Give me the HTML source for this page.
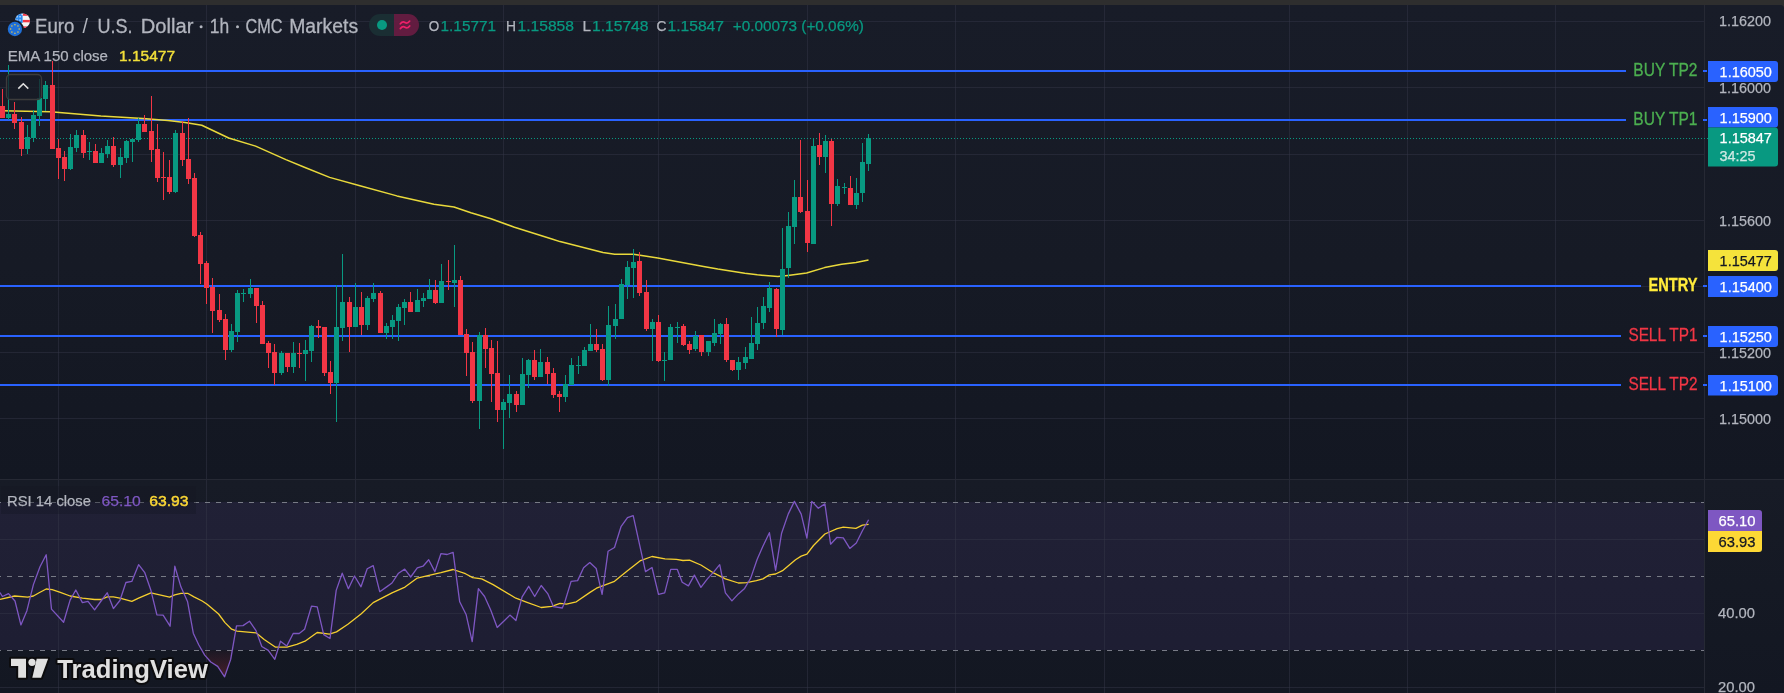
<!DOCTYPE html>
<html><head><meta charset="utf-8"><style>
html,body{margin:0;padding:0;background:#131722;}
body{width:1784px;height:693px;overflow:hidden;}
svg{display:block;will-change:transform;}
text{font-family:"Liberation Sans", sans-serif;}
</style></head><body>
<svg width="1784" height="693" viewBox="0 0 1784 693">
<defs>
<linearGradient id="bgm" x1="0" y1="0" x2="0" y2="1">
<stop offset="0" stop-color="#181c28"/><stop offset="0.55" stop-color="#161a25"/><stop offset="1" stop-color="#131722"/>
</linearGradient>
<linearGradient id="bgr" x1="0" y1="0" x2="0" y2="1">
<stop offset="0" stop-color="#171b26"/><stop offset="1" stop-color="#131722"/>
</linearGradient>
<linearGradient id="osf" gradientUnits="userSpaceOnUse" x1="0" y1="650" x2="0" y2="678">
<stop offset="0" stop-color="#f23645" stop-opacity="0.03"/><stop offset="1" stop-color="#f23645" stop-opacity="0.24"/>
</linearGradient>
<clipPath id="cm"><rect x="0" y="5" width="1704" height="474"/></clipPath>
<clipPath id="cr"><rect x="0" y="480" width="1704" height="213"/></clipPath>
<clipPath id="cos"><rect x="0" y="650.5" width="1704" height="43"/></clipPath>
</defs>

<rect x="0" y="0" width="1784" height="5" fill="#2e2e2e"/>
<rect x="0" y="5" width="1784" height="474" fill="url(#bgm)"/>
<rect x="0" y="480" width="1784" height="213" fill="url(#bgr)"/>
<rect x="0" y="502" width="1704" height="148" fill="#7e57c2" fill-opacity="0.1"/>
<rect x="58" y="5" width="1" height="474" fill="#363849" fill-opacity="0.47"/>
<rect x="58" y="480" width="1" height="213" fill="#363849" fill-opacity="0.47"/>
<rect x="206" y="5" width="1" height="474" fill="#363849" fill-opacity="0.47"/>
<rect x="206" y="480" width="1" height="213" fill="#363849" fill-opacity="0.47"/>
<rect x="355" y="5" width="1" height="474" fill="#363849" fill-opacity="0.47"/>
<rect x="355" y="480" width="1" height="213" fill="#363849" fill-opacity="0.47"/>
<rect x="503" y="5" width="1" height="474" fill="#363849" fill-opacity="0.47"/>
<rect x="503" y="480" width="1" height="213" fill="#363849" fill-opacity="0.47"/>
<rect x="658" y="5" width="1" height="474" fill="#363849" fill-opacity="0.47"/>
<rect x="658" y="480" width="1" height="213" fill="#363849" fill-opacity="0.47"/>
<rect x="807" y="5" width="1" height="474" fill="#363849" fill-opacity="0.47"/>
<rect x="807" y="480" width="1" height="213" fill="#363849" fill-opacity="0.47"/>
<rect x="955" y="5" width="1" height="474" fill="#363849" fill-opacity="0.47"/>
<rect x="955" y="480" width="1" height="213" fill="#363849" fill-opacity="0.47"/>
<rect x="1104" y="5" width="1" height="474" fill="#363849" fill-opacity="0.47"/>
<rect x="1104" y="480" width="1" height="213" fill="#363849" fill-opacity="0.47"/>
<rect x="1289" y="5" width="1" height="474" fill="#363849" fill-opacity="0.47"/>
<rect x="1289" y="480" width="1" height="213" fill="#363849" fill-opacity="0.47"/>
<rect x="1407" y="5" width="1" height="474" fill="#363849" fill-opacity="0.47"/>
<rect x="1407" y="480" width="1" height="213" fill="#363849" fill-opacity="0.47"/>
<rect x="1555" y="5" width="1" height="474" fill="#363849" fill-opacity="0.47"/>
<rect x="1555" y="480" width="1" height="213" fill="#363849" fill-opacity="0.47"/>
<rect x="0" y="21" width="1704" height="1" fill="#363849" fill-opacity="0.47"/>
<rect x="0" y="87" width="1704" height="1" fill="#363849" fill-opacity="0.47"/>
<rect x="0" y="154" width="1704" height="1" fill="#363849" fill-opacity="0.47"/>
<rect x="0" y="220" width="1704" height="1" fill="#363849" fill-opacity="0.47"/>
<rect x="0" y="286" width="1704" height="1" fill="#363849" fill-opacity="0.47"/>
<rect x="0" y="352" width="1704" height="1" fill="#363849" fill-opacity="0.47"/>
<rect x="0" y="418" width="1704" height="1" fill="#363849" fill-opacity="0.47"/>
<rect x="0" y="539" width="1704" height="1" fill="#363849" fill-opacity="0.47"/>
<rect x="0" y="613" width="1704" height="1" fill="#363849" fill-opacity="0.47"/>
<rect x="0" y="687" width="1704" height="1" fill="#363849" fill-opacity="0.47"/>
<rect x="0" y="479" width="1784" height="1" fill="#262934"/>
<rect x="1704" y="5" width="1" height="688" fill="#262934"/>
<line x1="0" y1="502.5" x2="1704" y2="502.5" stroke="#787b86" stroke-width="1" stroke-dasharray="5 6" stroke-dashoffset="4"/>
<line x1="0" y1="576.5" x2="1704" y2="576.5" stroke="#787b86" stroke-width="1" stroke-dasharray="5 6" stroke-dashoffset="4"/>
<line x1="0" y1="650.5" x2="1704" y2="650.5" stroke="#787b86" stroke-width="1" stroke-dasharray="5 6" stroke-dashoffset="4"/>
<line x1="0" y1="138.5" x2="1708" y2="138.5" stroke="#089981" stroke-width="1" stroke-dasharray="1 2"/>
<rect x="0" y="70" width="1626" height="2" fill="#2962ff"/>
<text x="1633.3" y="76.3" fill="#4caf50" stroke="#4caf50" stroke-width="0.3" font-size="17.5" font-weight="normal" textLength="64.2" lengthAdjust="spacingAndGlyphs">BUY TP2</text>
<rect x="0" y="119" width="1626" height="2" fill="#2962ff"/>
<text x="1633.3" y="125.3" fill="#4caf50" stroke="#4caf50" stroke-width="0.3" font-size="17.5" font-weight="normal" textLength="64.2" lengthAdjust="spacingAndGlyphs">BUY TP1</text>
<rect x="0" y="285" width="1641" height="2" fill="#2962ff"/>
<text x="1648.5" y="291.3" fill="#ffeb3b" stroke="#ffeb3b" stroke-width="0.3" font-size="17.5" font-weight="bold" textLength="49.0" lengthAdjust="spacingAndGlyphs">ENTRY</text>
<rect x="0" y="335" width="1621" height="2" fill="#2962ff"/>
<text x="1628.4" y="341.3" fill="#f23645" stroke="#f23645" stroke-width="0.3" font-size="17.5" font-weight="normal" textLength="69.1" lengthAdjust="spacingAndGlyphs">SELL TP1</text>
<rect x="0" y="384" width="1621" height="2" fill="#2962ff"/>
<text x="1628.4" y="390.3" fill="#f23645" stroke="#f23645" stroke-width="0.3" font-size="17.5" font-weight="normal" textLength="69.1" lengthAdjust="spacingAndGlyphs">SELL TP2</text>
<polyline points="2.0,110.8 50.4,111.8 100.9,116.0 142.9,118.5 168.0,120.6 185.0,122.4 201.8,125.2 228.7,138.0 255.6,146.1 285.9,159.6 304.4,167.3 329.6,177.4 359.9,185.8 396.9,195.9 433.9,204.3 454.0,207.0 470.9,212.7 491.0,218.8 514.5,227.2 552.7,239.3 560.0,241.6 603.0,252.6 614.7,254.2 633.5,254.2 657.8,258.0 703.5,266.4 717.8,269.1 744.8,273.2 757.3,274.8 777.9,276.6 787.8,275.4 806.6,273.0 824.6,267.6 841.6,264.2 856.0,262.4 868.5,260.1" fill="none" stroke="#e9d93b" stroke-width="1.5" stroke-linejoin="round"/>
<g shape-rendering="crispEdges" clip-path="url(#cm)">
<rect x="2" y="89" width="1" height="29" fill="#f23645"/>
<rect x="0" y="106" width="5" height="12" fill="#f23645"/>
<rect x="8" y="65" width="1" height="55" fill="#089981"/>
<rect x="6" y="114" width="5" height="4" fill="#089981"/>
<rect x="14" y="102" width="1" height="27" fill="#f23645"/>
<rect x="12" y="114" width="5" height="9" fill="#f23645"/>
<rect x="21" y="117" width="1" height="39" fill="#f23645"/>
<rect x="19" y="122" width="5" height="27" fill="#f23645"/>
<rect x="27" y="125" width="1" height="29" fill="#089981"/>
<rect x="25" y="137" width="5" height="12" fill="#089981"/>
<rect x="33" y="110" width="1" height="32" fill="#089981"/>
<rect x="31" y="115" width="5" height="23" fill="#089981"/>
<rect x="39" y="79" width="1" height="47" fill="#089981"/>
<rect x="37" y="98" width="5" height="18" fill="#089981"/>
<rect x="45" y="81" width="1" height="30" fill="#089981"/>
<rect x="43" y="85" width="5" height="14" fill="#089981"/>
<rect x="52" y="61" width="1" height="88" fill="#f23645"/>
<rect x="50" y="85" width="5" height="64" fill="#f23645"/>
<rect x="58" y="139" width="1" height="40" fill="#f23645"/>
<rect x="56" y="148" width="5" height="10" fill="#f23645"/>
<rect x="64" y="151" width="1" height="30" fill="#f23645"/>
<rect x="62" y="157" width="5" height="12" fill="#f23645"/>
<rect x="70" y="134" width="1" height="36" fill="#089981"/>
<rect x="68" y="147" width="5" height="22" fill="#089981"/>
<rect x="76" y="130" width="1" height="22" fill="#089981"/>
<rect x="74" y="135" width="5" height="13" fill="#089981"/>
<rect x="83" y="130" width="1" height="28" fill="#f23645"/>
<rect x="81" y="135" width="5" height="18" fill="#f23645"/>
<rect x="89" y="142" width="1" height="18" fill="#089981"/>
<rect x="87" y="151" width="5" height="1" fill="#089981"/>
<rect x="95" y="144" width="1" height="19" fill="#f23645"/>
<rect x="93" y="151" width="5" height="12" fill="#f23645"/>
<rect x="101" y="148" width="1" height="15" fill="#089981"/>
<rect x="99" y="153" width="5" height="10" fill="#089981"/>
<rect x="107" y="140" width="1" height="18" fill="#089981"/>
<rect x="105" y="146" width="5" height="8" fill="#089981"/>
<rect x="113" y="137" width="1" height="30" fill="#f23645"/>
<rect x="111" y="146" width="5" height="19" fill="#f23645"/>
<rect x="120" y="148" width="1" height="30" fill="#089981"/>
<rect x="118" y="157" width="5" height="8" fill="#089981"/>
<rect x="126" y="140" width="1" height="23" fill="#089981"/>
<rect x="124" y="141" width="5" height="17" fill="#089981"/>
<rect x="132" y="138" width="1" height="24" fill="#089981"/>
<rect x="130" y="139" width="5" height="3" fill="#089981"/>
<rect x="138" y="118" width="1" height="24" fill="#089981"/>
<rect x="136" y="124" width="5" height="16" fill="#089981"/>
<rect x="144" y="115" width="1" height="17" fill="#f23645"/>
<rect x="142" y="124" width="5" height="8" fill="#f23645"/>
<rect x="151" y="96" width="1" height="66" fill="#f23645"/>
<rect x="149" y="131" width="5" height="19" fill="#f23645"/>
<rect x="157" y="124" width="1" height="58" fill="#f23645"/>
<rect x="155" y="149" width="5" height="29" fill="#f23645"/>
<rect x="163" y="152" width="1" height="48" fill="#f23645"/>
<rect x="161" y="177" width="5" height="1" fill="#f23645"/>
<rect x="169" y="160" width="1" height="34" fill="#f23645"/>
<rect x="167" y="177" width="5" height="15" fill="#f23645"/>
<rect x="175" y="130" width="1" height="63" fill="#089981"/>
<rect x="173" y="133" width="5" height="59" fill="#089981"/>
<rect x="182" y="121" width="1" height="45" fill="#f23645"/>
<rect x="180" y="133" width="5" height="27" fill="#f23645"/>
<rect x="188" y="118" width="1" height="66" fill="#f23645"/>
<rect x="186" y="159" width="5" height="20" fill="#f23645"/>
<rect x="194" y="173" width="1" height="64" fill="#f23645"/>
<rect x="192" y="178" width="5" height="58" fill="#f23645"/>
<rect x="200" y="232" width="1" height="52" fill="#f23645"/>
<rect x="198" y="235" width="5" height="29" fill="#f23645"/>
<rect x="206" y="261" width="1" height="43" fill="#f23645"/>
<rect x="204" y="263" width="5" height="25" fill="#f23645"/>
<rect x="212" y="278" width="1" height="55" fill="#f23645"/>
<rect x="210" y="287" width="5" height="24" fill="#f23645"/>
<rect x="219" y="294" width="1" height="28" fill="#f23645"/>
<rect x="217" y="310" width="5" height="10" fill="#f23645"/>
<rect x="225" y="314" width="1" height="46" fill="#f23645"/>
<rect x="223" y="319" width="5" height="31" fill="#f23645"/>
<rect x="231" y="324" width="1" height="28" fill="#089981"/>
<rect x="229" y="331" width="5" height="19" fill="#089981"/>
<rect x="237" y="290" width="1" height="52" fill="#089981"/>
<rect x="235" y="293" width="5" height="39" fill="#089981"/>
<rect x="243" y="289" width="1" height="13" fill="#089981"/>
<rect x="241" y="293" width="5" height="1" fill="#089981"/>
<rect x="250" y="279" width="1" height="19" fill="#089981"/>
<rect x="248" y="288" width="5" height="6" fill="#089981"/>
<rect x="256" y="288" width="1" height="35" fill="#f23645"/>
<rect x="254" y="288" width="5" height="18" fill="#f23645"/>
<rect x="262" y="301" width="1" height="43" fill="#f23645"/>
<rect x="260" y="305" width="5" height="39" fill="#f23645"/>
<rect x="268" y="341" width="1" height="27" fill="#f23645"/>
<rect x="266" y="343" width="5" height="10" fill="#f23645"/>
<rect x="274" y="344" width="1" height="41" fill="#f23645"/>
<rect x="272" y="352" width="5" height="21" fill="#f23645"/>
<rect x="281" y="351" width="1" height="24" fill="#089981"/>
<rect x="279" y="353" width="5" height="20" fill="#089981"/>
<rect x="287" y="353" width="1" height="19" fill="#f23645"/>
<rect x="285" y="353" width="5" height="14" fill="#f23645"/>
<rect x="293" y="342" width="1" height="31" fill="#089981"/>
<rect x="291" y="353" width="5" height="14" fill="#089981"/>
<rect x="299" y="343" width="1" height="25" fill="#f23645"/>
<rect x="297" y="353" width="5" height="1" fill="#f23645"/>
<rect x="305" y="340" width="1" height="41" fill="#089981"/>
<rect x="303" y="350" width="5" height="4" fill="#089981"/>
<rect x="311" y="325" width="1" height="37" fill="#089981"/>
<rect x="309" y="326" width="5" height="25" fill="#089981"/>
<rect x="318" y="320" width="1" height="18" fill="#f23645"/>
<rect x="316" y="326" width="5" height="2" fill="#f23645"/>
<rect x="324" y="327" width="1" height="49" fill="#f23645"/>
<rect x="322" y="327" width="5" height="46" fill="#f23645"/>
<rect x="330" y="361" width="1" height="33" fill="#f23645"/>
<rect x="328" y="372" width="5" height="11" fill="#f23645"/>
<rect x="336" y="285" width="1" height="137" fill="#089981"/>
<rect x="334" y="327" width="5" height="56" fill="#089981"/>
<rect x="342" y="254" width="1" height="87" fill="#089981"/>
<rect x="340" y="302" width="5" height="26" fill="#089981"/>
<rect x="349" y="297" width="1" height="55" fill="#f23645"/>
<rect x="347" y="302" width="5" height="25" fill="#f23645"/>
<rect x="355" y="283" width="1" height="44" fill="#089981"/>
<rect x="353" y="307" width="5" height="20" fill="#089981"/>
<rect x="361" y="292" width="1" height="43" fill="#f23645"/>
<rect x="359" y="307" width="5" height="18" fill="#f23645"/>
<rect x="367" y="296" width="1" height="34" fill="#089981"/>
<rect x="365" y="298" width="5" height="27" fill="#089981"/>
<rect x="373" y="283" width="1" height="19" fill="#089981"/>
<rect x="371" y="293" width="5" height="6" fill="#089981"/>
<rect x="380" y="291" width="1" height="42" fill="#f23645"/>
<rect x="378" y="293" width="5" height="40" fill="#f23645"/>
<rect x="386" y="323" width="1" height="16" fill="#089981"/>
<rect x="384" y="326" width="5" height="7" fill="#089981"/>
<rect x="392" y="315" width="1" height="24" fill="#089981"/>
<rect x="390" y="320" width="5" height="7" fill="#089981"/>
<rect x="398" y="304" width="1" height="37" fill="#089981"/>
<rect x="396" y="307" width="5" height="14" fill="#089981"/>
<rect x="404" y="299" width="1" height="26" fill="#089981"/>
<rect x="402" y="302" width="5" height="6" fill="#089981"/>
<rect x="410" y="292" width="1" height="20" fill="#f23645"/>
<rect x="408" y="302" width="5" height="10" fill="#f23645"/>
<rect x="417" y="289" width="1" height="23" fill="#089981"/>
<rect x="415" y="300" width="5" height="12" fill="#089981"/>
<rect x="423" y="293" width="1" height="14" fill="#089981"/>
<rect x="421" y="298" width="5" height="3" fill="#089981"/>
<rect x="429" y="279" width="1" height="20" fill="#089981"/>
<rect x="427" y="290" width="5" height="9" fill="#089981"/>
<rect x="435" y="280" width="1" height="24" fill="#f23645"/>
<rect x="433" y="290" width="5" height="13" fill="#f23645"/>
<rect x="441" y="264" width="1" height="39" fill="#089981"/>
<rect x="439" y="281" width="5" height="22" fill="#089981"/>
<rect x="448" y="260" width="1" height="30" fill="#f23645"/>
<rect x="446" y="281" width="5" height="1" fill="#f23645"/>
<rect x="454" y="245" width="1" height="62" fill="#089981"/>
<rect x="452" y="280" width="5" height="3" fill="#089981"/>
<rect x="460" y="276" width="1" height="59" fill="#f23645"/>
<rect x="458" y="280" width="5" height="55" fill="#f23645"/>
<rect x="466" y="329" width="1" height="47" fill="#f23645"/>
<rect x="464" y="334" width="5" height="19" fill="#f23645"/>
<rect x="472" y="342" width="1" height="61" fill="#f23645"/>
<rect x="470" y="352" width="5" height="49" fill="#f23645"/>
<rect x="479" y="332" width="1" height="97" fill="#089981"/>
<rect x="477" y="335" width="5" height="66" fill="#089981"/>
<rect x="485" y="328" width="1" height="40" fill="#f23645"/>
<rect x="483" y="335" width="5" height="14" fill="#f23645"/>
<rect x="491" y="340" width="1" height="62" fill="#f23645"/>
<rect x="489" y="348" width="5" height="26" fill="#f23645"/>
<rect x="497" y="341" width="1" height="81" fill="#f23645"/>
<rect x="495" y="373" width="5" height="37" fill="#f23645"/>
<rect x="503" y="399" width="1" height="50" fill="#089981"/>
<rect x="501" y="402" width="5" height="8" fill="#089981"/>
<rect x="509" y="375" width="1" height="43" fill="#089981"/>
<rect x="507" y="394" width="5" height="9" fill="#089981"/>
<rect x="516" y="391" width="1" height="21" fill="#f23645"/>
<rect x="514" y="394" width="5" height="11" fill="#f23645"/>
<rect x="522" y="358" width="1" height="47" fill="#089981"/>
<rect x="520" y="374" width="5" height="31" fill="#089981"/>
<rect x="528" y="359" width="1" height="29" fill="#089981"/>
<rect x="526" y="360" width="5" height="15" fill="#089981"/>
<rect x="534" y="350" width="1" height="30" fill="#f23645"/>
<rect x="532" y="360" width="5" height="17" fill="#f23645"/>
<rect x="540" y="349" width="1" height="28" fill="#089981"/>
<rect x="538" y="362" width="5" height="15" fill="#089981"/>
<rect x="547" y="357" width="1" height="27" fill="#f23645"/>
<rect x="545" y="362" width="5" height="12" fill="#f23645"/>
<rect x="553" y="368" width="1" height="30" fill="#f23645"/>
<rect x="551" y="373" width="5" height="22" fill="#f23645"/>
<rect x="559" y="391" width="1" height="21" fill="#f23645"/>
<rect x="557" y="394" width="5" height="3" fill="#f23645"/>
<rect x="565" y="375" width="1" height="27" fill="#089981"/>
<rect x="563" y="384" width="5" height="13" fill="#089981"/>
<rect x="571" y="358" width="1" height="27" fill="#089981"/>
<rect x="569" y="365" width="5" height="20" fill="#089981"/>
<rect x="578" y="356" width="1" height="18" fill="#089981"/>
<rect x="576" y="365" width="5" height="1" fill="#089981"/>
<rect x="584" y="347" width="1" height="19" fill="#089981"/>
<rect x="582" y="350" width="5" height="16" fill="#089981"/>
<rect x="590" y="324" width="1" height="27" fill="#089981"/>
<rect x="588" y="344" width="5" height="7" fill="#089981"/>
<rect x="596" y="329" width="1" height="23" fill="#f23645"/>
<rect x="594" y="344" width="5" height="6" fill="#f23645"/>
<rect x="602" y="344" width="1" height="37" fill="#f23645"/>
<rect x="600" y="349" width="5" height="31" fill="#f23645"/>
<rect x="608" y="306" width="1" height="80" fill="#089981"/>
<rect x="606" y="325" width="5" height="55" fill="#089981"/>
<rect x="615" y="304" width="1" height="35" fill="#089981"/>
<rect x="613" y="319" width="5" height="7" fill="#089981"/>
<rect x="621" y="279" width="1" height="40" fill="#089981"/>
<rect x="619" y="284" width="5" height="35" fill="#089981"/>
<rect x="627" y="261" width="1" height="38" fill="#089981"/>
<rect x="625" y="267" width="5" height="18" fill="#089981"/>
<rect x="633" y="249" width="1" height="49" fill="#089981"/>
<rect x="631" y="262" width="5" height="6" fill="#089981"/>
<rect x="639" y="252" width="1" height="44" fill="#f23645"/>
<rect x="637" y="261" width="5" height="32" fill="#f23645"/>
<rect x="646" y="280" width="1" height="51" fill="#f23645"/>
<rect x="644" y="292" width="5" height="37" fill="#f23645"/>
<rect x="652" y="319" width="1" height="42" fill="#089981"/>
<rect x="650" y="322" width="5" height="7" fill="#089981"/>
<rect x="658" y="315" width="1" height="47" fill="#f23645"/>
<rect x="656" y="322" width="5" height="39" fill="#f23645"/>
<rect x="664" y="352" width="1" height="29" fill="#089981"/>
<rect x="662" y="360" width="5" height="1" fill="#089981"/>
<rect x="670" y="324" width="1" height="36" fill="#089981"/>
<rect x="668" y="327" width="5" height="33" fill="#089981"/>
<rect x="677" y="322" width="1" height="21" fill="#089981"/>
<rect x="675" y="327" width="5" height="1" fill="#089981"/>
<rect x="683" y="324" width="1" height="22" fill="#f23645"/>
<rect x="681" y="326" width="5" height="19" fill="#f23645"/>
<rect x="689" y="341" width="1" height="13" fill="#f23645"/>
<rect x="687" y="344" width="5" height="6" fill="#f23645"/>
<rect x="695" y="331" width="1" height="20" fill="#089981"/>
<rect x="693" y="336" width="5" height="13" fill="#089981"/>
<rect x="701" y="335" width="1" height="21" fill="#f23645"/>
<rect x="699" y="335" width="5" height="17" fill="#f23645"/>
<rect x="708" y="341" width="1" height="15" fill="#089981"/>
<rect x="706" y="341" width="5" height="11" fill="#089981"/>
<rect x="714" y="319" width="1" height="27" fill="#089981"/>
<rect x="712" y="333" width="5" height="10" fill="#089981"/>
<rect x="720" y="323" width="1" height="21" fill="#089981"/>
<rect x="718" y="324" width="5" height="10" fill="#089981"/>
<rect x="726" y="318" width="1" height="44" fill="#f23645"/>
<rect x="724" y="324" width="5" height="36" fill="#f23645"/>
<rect x="732" y="360" width="1" height="11" fill="#f23645"/>
<rect x="730" y="360" width="5" height="10" fill="#f23645"/>
<rect x="738" y="357" width="1" height="23" fill="#089981"/>
<rect x="736" y="362" width="5" height="8" fill="#089981"/>
<rect x="745" y="347" width="1" height="22" fill="#089981"/>
<rect x="743" y="357" width="5" height="6" fill="#089981"/>
<rect x="751" y="317" width="1" height="42" fill="#089981"/>
<rect x="749" y="343" width="5" height="16" fill="#089981"/>
<rect x="757" y="307" width="1" height="43" fill="#089981"/>
<rect x="755" y="323" width="5" height="21" fill="#089981"/>
<rect x="763" y="297" width="1" height="32" fill="#089981"/>
<rect x="761" y="306" width="5" height="17" fill="#089981"/>
<rect x="769" y="282" width="1" height="30" fill="#089981"/>
<rect x="767" y="288" width="5" height="20" fill="#089981"/>
<rect x="776" y="288" width="1" height="49" fill="#f23645"/>
<rect x="774" y="289" width="5" height="40" fill="#f23645"/>
<rect x="782" y="228" width="1" height="107" fill="#089981"/>
<rect x="780" y="269" width="5" height="61" fill="#089981"/>
<rect x="788" y="212" width="1" height="66" fill="#089981"/>
<rect x="786" y="226" width="5" height="42" fill="#089981"/>
<rect x="794" y="180" width="1" height="64" fill="#089981"/>
<rect x="792" y="197" width="5" height="30" fill="#089981"/>
<rect x="800" y="140" width="1" height="73" fill="#f23645"/>
<rect x="798" y="197" width="5" height="15" fill="#f23645"/>
<rect x="807" y="180" width="1" height="72" fill="#f23645"/>
<rect x="805" y="211" width="5" height="32" fill="#f23645"/>
<rect x="813" y="139" width="1" height="105" fill="#089981"/>
<rect x="811" y="146" width="5" height="98" fill="#089981"/>
<rect x="819" y="133" width="1" height="32" fill="#f23645"/>
<rect x="817" y="145" width="5" height="12" fill="#f23645"/>
<rect x="825" y="135" width="1" height="38" fill="#089981"/>
<rect x="823" y="141" width="5" height="16" fill="#089981"/>
<rect x="831" y="139" width="1" height="87" fill="#f23645"/>
<rect x="829" y="141" width="5" height="63" fill="#f23645"/>
<rect x="837" y="179" width="1" height="27" fill="#089981"/>
<rect x="835" y="186" width="5" height="18" fill="#089981"/>
<rect x="844" y="183" width="1" height="11" fill="#089981"/>
<rect x="842" y="187" width="5" height="1" fill="#089981"/>
<rect x="850" y="176" width="1" height="29" fill="#f23645"/>
<rect x="848" y="188" width="5" height="17" fill="#f23645"/>
<rect x="856" y="178" width="1" height="31" fill="#089981"/>
<rect x="854" y="193" width="5" height="12" fill="#089981"/>
<rect x="862" y="143" width="1" height="59" fill="#089981"/>
<rect x="860" y="162" width="5" height="31" fill="#089981"/>
<rect x="868" y="134" width="1" height="37" fill="#089981"/>
<rect x="866" y="138" width="5" height="26" fill="#089981"/>
</g>
<g clip-path="url(#cos)"><polygon points="0,650 0.0,592.5 2.4,596.5 8.5,593.6 15.0,601.0 20.9,624.9 26.9,610.7 33.4,584.6 40.0,566.7 46.2,554.8 51.5,609.1 63.6,622.2 70.1,600.1 75.8,590.0 82.4,602.6 88.0,601.3 94.6,609.9 101.1,601.0 107.2,592.8 113.4,608.6 119.9,600.5 125.9,582.5 131.8,581.4 138.6,564.7 144.8,572.7 150.9,590.3 156.9,614.8 163.1,615.1 170.1,626.2 174.8,566.2 181.0,587.1 187.6,601.8 193.3,633.2 198.7,644.7 204.7,655.1 210.8,662.0 217.7,666.4 224.6,676.8 230.7,659.4 236.5,625.8 243.0,625.6 249.5,621.2 256.0,630.6 261.8,646.5 268.3,650.4 274.8,659.3 280.5,641.2 286.7,646.1 293.2,633.5 299.2,633.5 304.6,629.3 311.5,606.1 317.2,606.9 323.7,634.6 330.0,638.5 336.2,590.4 342.2,573.2 348.4,588.7 354.5,576.0 361.0,586.8 367.2,568.8 373.2,565.6 379.7,591.7 386.3,587.1 392.0,583.0 398.5,573.2 404.7,569.1 410.7,577.0 417.3,567.8 423.0,566.2 428.7,559.7 434.9,571.6 440.9,553.7 447.1,554.5 453.1,552.3 459.7,601.8 466.2,614.8 472.2,641.7 478.4,588.7 484.6,596.5 490.7,609.9 497.2,627.5 503.7,621.3 509.9,615.1 515.9,620.5 522.1,596.9 528.7,586.3 534.7,596.5 541.2,585.5 547.7,593.6 553.5,606.7 562.3,608.0 564.9,601.8 571.1,581.4 577.6,580.6 583.6,567.8 589.8,562.6 596.2,568.5 602.1,594.4 608.1,551.2 614.5,547.5 621.0,526.7 627.5,517.7 633.2,515.6 645.5,571.6 652.0,567.5 658.5,594.4 664.7,592.8 670.7,569.4 677.3,569.4 682.2,582.2 688.4,585.9 694.4,575.1 700.9,587.4 707.4,578.9 714.0,571.6 719.7,564.7 725.4,592.8 731.9,600.9 738.4,593.9 744.6,588.4 750.7,578.1 757.2,559.3 762.9,546.3 769.4,532.7 775.6,570.4 781.6,533.2 788.2,514.1 794.4,501.4 801.2,514.1 806.9,538.1 811.8,501.4 818.3,508.3 824.9,503.9 830.6,544.2 837.1,537.3 843.3,537.8 849.8,548.4 856.3,543.0 862.4,530.8 868.6,519.7 868.6,650" fill="url(#osf)"/></g>
<polyline points="0.0,599.3 14.7,596.0 27.7,597.2 33.4,596.0 39.1,592.8 46.2,589.0 52.2,589.7 60.3,592.3 70.1,596.0 82.4,598.2 94.6,599.5 101.1,599.5 107.2,596.9 113.4,596.9 119.9,598.2 131.8,601.4 138.6,598.2 150.9,592.8 169.6,597.2 174.8,594.9 181.0,593.3 187.6,593.3 194.0,596.9 202.2,601.0 207.1,604.2 218.6,614.0 225.0,622.6 231.6,629.2 237.0,631.2 256.0,632.8 264.2,639.5 275.6,647.2 287.0,647.2 296.8,644.4 305.0,641.2 317.2,632.5 329.4,634.2 336.5,631.9 347.9,624.3 361.0,614.0 373.2,602.6 392.0,592.8 405.0,587.1 417.3,578.1 427.9,575.7 440.9,572.7 453.1,569.5 465.4,573.7 472.7,577.6 481.7,578.9 493.1,584.6 515.9,598.2 525.7,601.8 541.2,607.5 551.8,606.3 560.0,603.4 566.5,604.2 576.3,601.8 590.0,592.4 596.5,588.2 614.5,581.3 627.5,570.7 640.6,560.6 652.0,556.5 665.0,558.8 676.4,559.3 683.0,560.5 689.5,560.1 700.9,565.0 714.0,573.2 725.4,578.9 738.4,583.0 746.6,582.6 756.4,580.7 762.9,578.9 769.4,574.8 775.6,574.0 782.5,570.7 795.5,559.8 801.2,556.1 806.9,554.1 813.5,545.5 824.9,534.0 837.1,528.7 843.3,527.2 855.9,528.3 862.4,525.1 868.6,524.3" fill="none" stroke="#f5cf2f" stroke-width="1.3" stroke-linejoin="round"/>
<polyline points="0.0,592.5 2.4,596.5 8.5,593.6 15.0,601.0 20.9,624.9 26.9,610.7 33.4,584.6 40.0,566.7 46.2,554.8 51.5,609.1 63.6,622.2 70.1,600.1 75.8,590.0 82.4,602.6 88.0,601.3 94.6,609.9 101.1,601.0 107.2,592.8 113.4,608.6 119.9,600.5 125.9,582.5 131.8,581.4 138.6,564.7 144.8,572.7 150.9,590.3 156.9,614.8 163.1,615.1 170.1,626.2 174.8,566.2 181.0,587.1 187.6,601.8 193.3,633.2 198.7,644.7 204.7,655.1 210.8,662.0 217.7,666.4 224.6,676.8 230.7,659.4 236.5,625.8 243.0,625.6 249.5,621.2 256.0,630.6 261.8,646.5 268.3,650.4 274.8,659.3 280.5,641.2 286.7,646.1 293.2,633.5 299.2,633.5 304.6,629.3 311.5,606.1 317.2,606.9 323.7,634.6 330.0,638.5 336.2,590.4 342.2,573.2 348.4,588.7 354.5,576.0 361.0,586.8 367.2,568.8 373.2,565.6 379.7,591.7 386.3,587.1 392.0,583.0 398.5,573.2 404.7,569.1 410.7,577.0 417.3,567.8 423.0,566.2 428.7,559.7 434.9,571.6 440.9,553.7 447.1,554.5 453.1,552.3 459.7,601.8 466.2,614.8 472.2,641.7 478.4,588.7 484.6,596.5 490.7,609.9 497.2,627.5 503.7,621.3 509.9,615.1 515.9,620.5 522.1,596.9 528.7,586.3 534.7,596.5 541.2,585.5 547.7,593.6 553.5,606.7 562.3,608.0 564.9,601.8 571.1,581.4 577.6,580.6 583.6,567.8 589.8,562.6 596.2,568.5 602.1,594.4 608.1,551.2 614.5,547.5 621.0,526.7 627.5,517.7 633.2,515.6 645.5,571.6 652.0,567.5 658.5,594.4 664.7,592.8 670.7,569.4 677.3,569.4 682.2,582.2 688.4,585.9 694.4,575.1 700.9,587.4 707.4,578.9 714.0,571.6 719.7,564.7 725.4,592.8 731.9,600.9 738.4,593.9 744.6,588.4 750.7,578.1 757.2,559.3 762.9,546.3 769.4,532.7 775.6,570.4 781.6,533.2 788.2,514.1 794.4,501.4 801.2,514.1 806.9,538.1 811.8,501.4 818.3,508.3 824.9,503.9 830.6,544.2 837.1,537.3 843.3,537.8 849.8,548.4 856.3,543.0 862.4,530.8 868.6,519.7" fill="none" stroke="#7e57c2" stroke-width="1.3" stroke-linejoin="round"/>
<rect x="6.5" y="74.5" width="35" height="25" rx="4" fill="#181c27" fill-opacity="0.75" stroke="#3c3c3c" stroke-width="1.3"/>
<polyline points="18.3,88.6 23.3,83.8 28.3,88.6" fill="none" stroke="#e0e0e0" stroke-width="1.5"/>
<text x="35" y="32.8" fill="#b2b5be" stroke="#b2b5be" stroke-width="0.3" font-size="19.5" textLength="39.3" lengthAdjust="spacingAndGlyphs">Euro</text>
<text x="97.4" y="32.8" fill="#b2b5be" stroke="#b2b5be" stroke-width="0.3" font-size="19.5" textLength="35" lengthAdjust="spacingAndGlyphs">U.S.</text>
<text x="140.8" y="32.8" fill="#b2b5be" stroke="#b2b5be" stroke-width="0.3" font-size="19.5" textLength="52.6" lengthAdjust="spacingAndGlyphs">Dollar</text>
<text x="209.8" y="32.8" fill="#b2b5be" stroke="#b2b5be" stroke-width="0.3" font-size="19.5" textLength="19.4" lengthAdjust="spacingAndGlyphs">1h</text>
<text x="245.5" y="32.8" fill="#b2b5be" stroke="#b2b5be" stroke-width="0.3" font-size="19.5" textLength="36.9" lengthAdjust="spacingAndGlyphs">CMC</text>
<text x="289.2" y="32.8" fill="#b2b5be" stroke="#b2b5be" stroke-width="0.3" font-size="19.5" textLength="68.9" lengthAdjust="spacingAndGlyphs">Markets</text>
<text x="82.5" y="32.8" fill="#b2b5be" font-size="19.5">/</text>
<circle cx="201.1" cy="26.7" r="1.5" fill="#b2b5be"/><circle cx="237.5" cy="26.7" r="1.5" fill="#b2b5be"/>
<clipPath id="usc"><circle cx="22.6" cy="20.8" r="7.4"/></clipPath>
<g clip-path="url(#usc)">
<rect x="14" y="12" width="17" height="18" fill="#f4f4f4"/>
<rect x="22.6" y="13.4" width="9" height="2.4" fill="#f23645"/>
<rect x="22.6" y="19.9" width="9" height="2.4" fill="#f23645"/>
<rect x="22.6" y="26.4" width="9" height="2.4" fill="#f23645"/>
<rect x="14" y="12" width="8.6" height="11" fill="#2a8af0"/>
<rect x="16.5" y="16.2" width="1.2" height="1.2" fill="#ffffff"/>
<rect x="19.5" y="16.2" width="1.2" height="1.2" fill="#ffffff"/>
<rect x="16.5" y="19.5" width="1.2" height="1.2" fill="#ffffff"/>
<rect x="19.5" y="19.5" width="1.2" height="1.2" fill="#ffffff"/>
<rect x="21.5" y="14" width="1.2" height="1.2" fill="#ffffff"/>
</g>
<circle cx="14.9" cy="29" r="8.9" fill="#181c27"/>
<circle cx="14.9" cy="29" r="7.15" fill="#1f6fd8"/>
<rect x="14.20" y="24.10" width="1.4" height="1.2" fill="#e8c84a"/>
<rect x="17.24" y="25.36" width="1.4" height="1.2" fill="#e8c84a"/>
<rect x="18.50" y="28.40" width="1.4" height="1.2" fill="#e8c84a"/>
<rect x="17.24" y="31.44" width="1.4" height="1.2" fill="#e8c84a"/>
<rect x="14.20" y="32.70" width="1.4" height="1.2" fill="#e8c84a"/>
<rect x="11.16" y="31.44" width="1.4" height="1.2" fill="#e8c84a"/>
<rect x="9.90" y="28.40" width="1.4" height="1.2" fill="#e8c84a"/>
<rect x="11.16" y="25.36" width="1.4" height="1.2" fill="#e8c84a"/>
<path d="M380,14 h14 v22 h-14 a11,11 0 0 1 0,-22 z" fill="#1a2f34" fill-opacity="0.95"/>
<path d="M394,14 h14 a11,11 0 0 1 0,22 h-14 z" fill="#661c41" fill-opacity="0.95"/>
<circle cx="382" cy="25" r="5" fill="#089981"/>
<path d="M400.3,23.8 q2.3,-2.9 4.7,-1.3 t4.7,-1.4 M400.3,28.6 q2.3,-2.9 4.7,-1.3 t4.7,-1.4" fill="none" stroke="#ee2069" stroke-width="1.7" stroke-linecap="round"/>
<text x="428.8" y="31" fill="#b2b5be" font-size="15" text-anchor="start" font-weight="normal" stroke="#b2b5be" stroke-width="0.25" textLength="10.5" lengthAdjust="spacingAndGlyphs">O</text>
<text x="440.6" y="31" fill="#089981" font-size="15" text-anchor="start" font-weight="normal" stroke="#089981" stroke-width="0.25" textLength="55.4" lengthAdjust="spacingAndGlyphs">1.15771</text>
<text x="506.1" y="31" fill="#b2b5be" font-size="15" text-anchor="start" font-weight="normal" stroke="#b2b5be" stroke-width="0.25" textLength="10" lengthAdjust="spacingAndGlyphs">H</text>
<text x="517.5" y="31" fill="#089981" font-size="15" text-anchor="start" font-weight="normal" stroke="#089981" stroke-width="0.25" textLength="56.5" lengthAdjust="spacingAndGlyphs">1.15858</text>
<text x="582.4" y="31" fill="#b2b5be" font-size="15" text-anchor="start" font-weight="normal" stroke="#b2b5be" stroke-width="0.25" textLength="8.5" lengthAdjust="spacingAndGlyphs">L</text>
<text x="592" y="31" fill="#089981" font-size="15" text-anchor="start" font-weight="normal" stroke="#089981" stroke-width="0.25" textLength="56.5" lengthAdjust="spacingAndGlyphs">1.15748</text>
<text x="656.5" y="31" fill="#b2b5be" font-size="15" text-anchor="start" font-weight="normal" stroke="#b2b5be" stroke-width="0.25" textLength="10" lengthAdjust="spacingAndGlyphs">C</text>
<text x="667.5" y="31" fill="#089981" font-size="15" text-anchor="start" font-weight="normal" stroke="#089981" stroke-width="0.25" textLength="56.5" lengthAdjust="spacingAndGlyphs">1.15847</text>
<text x="732.7" y="31" fill="#089981" font-size="15" text-anchor="start" font-weight="normal" stroke="#089981" stroke-width="0.25" textLength="131.2" lengthAdjust="spacingAndGlyphs">+0.00073 (+0.06%)</text>
<text x="7.7" y="61" fill="#b2b5be" font-size="15" text-anchor="start" font-weight="normal" stroke="#b2b5be" stroke-width="0.25" textLength="100.3" lengthAdjust="spacingAndGlyphs">EMA 150 close</text>
<text x="119" y="61" fill="#f2df3a" stroke="#f2df3a" stroke-width="0.45" font-size="15.5" textLength="56" lengthAdjust="spacingAndGlyphs">1.15477</text>
<rect x="1" y="486" width="195" height="28" fill="#131722" fill-opacity="0.35"/>
<text x="7" y="505.5" fill="#b2b5be" font-size="15" text-anchor="start" font-weight="normal" stroke="#b2b5be" stroke-width="0.25" textLength="84" lengthAdjust="spacingAndGlyphs">RSI 14 close</text>
<text x="101.6" y="505.5" fill="#7e57c2" font-size="15" text-anchor="start" font-weight="normal" stroke="#7e57c2" stroke-width="0.25" textLength="39.2" lengthAdjust="spacingAndGlyphs">65.10</text>
<text x="149.2" y="505.5" fill="#fdd835" stroke="#fdd835" stroke-width="0.45" font-size="15" textLength="39.3" lengthAdjust="spacingAndGlyphs">63.93</text>
<text x="1719" y="26.3" fill="#b2b5be" font-size="15" text-anchor="start" font-weight="normal" stroke="#b2b5be" stroke-width="0.25" textLength="52" lengthAdjust="spacingAndGlyphs">1.16200</text>
<text x="1719" y="93.3" fill="#b2b5be" font-size="15" text-anchor="start" font-weight="normal" stroke="#b2b5be" stroke-width="0.25" textLength="52" lengthAdjust="spacingAndGlyphs">1.16000</text>
<text x="1719" y="225.8" fill="#b2b5be" font-size="15" text-anchor="start" font-weight="normal" stroke="#b2b5be" stroke-width="0.25" textLength="52" lengthAdjust="spacingAndGlyphs">1.15600</text>
<text x="1719" y="357.90000000000003" fill="#b2b5be" font-size="15" text-anchor="start" font-weight="normal" stroke="#b2b5be" stroke-width="0.25" textLength="52" lengthAdjust="spacingAndGlyphs">1.15200</text>
<text x="1719" y="424.3" fill="#b2b5be" font-size="15" text-anchor="start" font-weight="normal" stroke="#b2b5be" stroke-width="0.25" textLength="52" lengthAdjust="spacingAndGlyphs">1.15000</text>
<path d="M1708,61 h67 a3,3 0 0 1 3,3 v15 a3,3 0 0 1 -3,3 h-67 z" fill="#2962ff"/>
<text x="1719.6" y="76.8" fill="#ffffff" font-size="15" text-anchor="start" font-weight="normal" stroke="#ffffff" stroke-width="0.25" textLength="52.3" lengthAdjust="spacingAndGlyphs">1.16050</text>
<path d="M1708,107 h67 a3,3 0 0 1 3,3 v14.5 a3,3 0 0 1 -3,3 h-67 z" fill="#2962ff"/>
<text x="1719.6" y="122.55" fill="#ffffff" font-size="15" text-anchor="start" font-weight="normal" stroke="#ffffff" stroke-width="0.25" textLength="52.3" lengthAdjust="spacingAndGlyphs">1.15900</text>
<path d="M1708,127.5 h67 a3,3 0 0 1 3,3 v33 a3,3 0 0 1 -3,3 h-67 z" fill="#089981"/>
<text x="1719.6" y="143" fill="#ffffff" font-size="15" text-anchor="start" font-weight="normal" stroke="#ffffff" stroke-width="0.25" textLength="52.3" lengthAdjust="spacingAndGlyphs">1.15847</text>
<text x="1719.6" y="161" fill="#cfe9e4" font-size="15" text-anchor="start" font-weight="normal" stroke="#cfe9e4" stroke-width="0.25" textLength="36" lengthAdjust="spacingAndGlyphs">34:25</text>
<path d="M1708,250 h67 a3,3 0 0 1 3,3 v15 a3,3 0 0 1 -3,3 h-67 z" fill="#f5e33b"/>
<text x="1719.6" y="265.8" fill="#131722" font-size="15" text-anchor="start" font-weight="normal" stroke="#131722" stroke-width="0.25" textLength="52.3" lengthAdjust="spacingAndGlyphs">1.15477</text>
<path d="M1708,276 h67 a3,3 0 0 1 3,3 v15 a3,3 0 0 1 -3,3 h-67 z" fill="#2962ff"/>
<text x="1719.6" y="291.8" fill="#ffffff" font-size="15" text-anchor="start" font-weight="normal" stroke="#ffffff" stroke-width="0.25" textLength="52.3" lengthAdjust="spacingAndGlyphs">1.15400</text>
<path d="M1708,326 h67 a3,3 0 0 1 3,3 v15 a3,3 0 0 1 -3,3 h-67 z" fill="#2962ff"/>
<text x="1719.6" y="341.8" fill="#ffffff" font-size="15" text-anchor="start" font-weight="normal" stroke="#ffffff" stroke-width="0.25" textLength="52.3" lengthAdjust="spacingAndGlyphs">1.15250</text>
<path d="M1708,375 h67 a3,3 0 0 1 3,3 v14.5 a3,3 0 0 1 -3,3 h-67 z" fill="#2962ff"/>
<text x="1719.6" y="390.55" fill="#ffffff" font-size="15" text-anchor="start" font-weight="normal" stroke="#ffffff" stroke-width="0.25" textLength="52.3" lengthAdjust="spacingAndGlyphs">1.15100</text>
<path d="M1708,510 h51 a3,3 0 0 1 3,3 v18 h-54 z" fill="#7e57c2"/>
<path d="M1708,531 h54 v18 a3,3 0 0 1 -3,3 h-51 z" fill="#fdd835"/>
<text x="1718.5" y="526" fill="#ffffff" font-size="15" text-anchor="start" font-weight="normal" stroke="#ffffff" stroke-width="0.25" textLength="37" lengthAdjust="spacingAndGlyphs">65.10</text>
<text x="1718.5" y="547" fill="#131722" font-size="15" text-anchor="start" font-weight="normal" stroke="#131722" stroke-width="0.25" textLength="37" lengthAdjust="spacingAndGlyphs">63.93</text>
<text x="1718" y="618.3" fill="#b2b5be" font-size="15" text-anchor="start" font-weight="normal" stroke="#b2b5be" stroke-width="0.25" textLength="37" lengthAdjust="spacingAndGlyphs">40.00</text>
<text x="1718" y="692" fill="#b2b5be" font-size="15" text-anchor="start" font-weight="normal" stroke="#b2b5be" stroke-width="0.25" textLength="37" lengthAdjust="spacingAndGlyphs">20.00</text>
<g fill="#0c0c0e" stroke="#0c0c0e" stroke-width="4" stroke-linejoin="round"><path d="M11,658.8 h15 v18.9 h-7.8 v-11.7 h-7.2 z"/><circle cx="32" cy="662.3" r="3.6"/><path d="M36.7,658.8 h11.4 l-7,18.9 h-8.8 z"/></g>
<g fill="#e0e0e0"><path d="M11,658.8 h15 v18.9 h-7.8 v-11.7 h-7.2 z"/><circle cx="32" cy="662.3" r="3.6"/><path d="M36.7,658.8 h11.4 l-7,18.9 h-8.8 z"/></g>
<text x="57.3" y="677.8" fill="#0c0c0e" font-size="25.5" font-weight="bold" stroke="#0c0c0e" stroke-width="4" stroke-linejoin="round" textLength="150.7" lengthAdjust="spacingAndGlyphs">TradingView</text>
<text x="57.3" y="677.8" fill="#e0e0e0" font-size="25.5" font-weight="bold" textLength="150.7" lengthAdjust="spacingAndGlyphs">TradingView</text>
<rect x="1703" y="70" width="4" height="2" fill="#2962ff"/>
<rect x="1703" y="119" width="4" height="2" fill="#2962ff"/>
<rect x="1703" y="285" width="4" height="2" fill="#2962ff"/>
<rect x="1703" y="335" width="4" height="2" fill="#2962ff"/>
<rect x="1703" y="384" width="4" height="2" fill="#2962ff"/>
<path d="M1780.5,5 h3.5 v3.5 a3.5,3.5 0 0 0 -3.5,-3.5 z" fill="#2e2e2e"/>
</svg></body></html>
